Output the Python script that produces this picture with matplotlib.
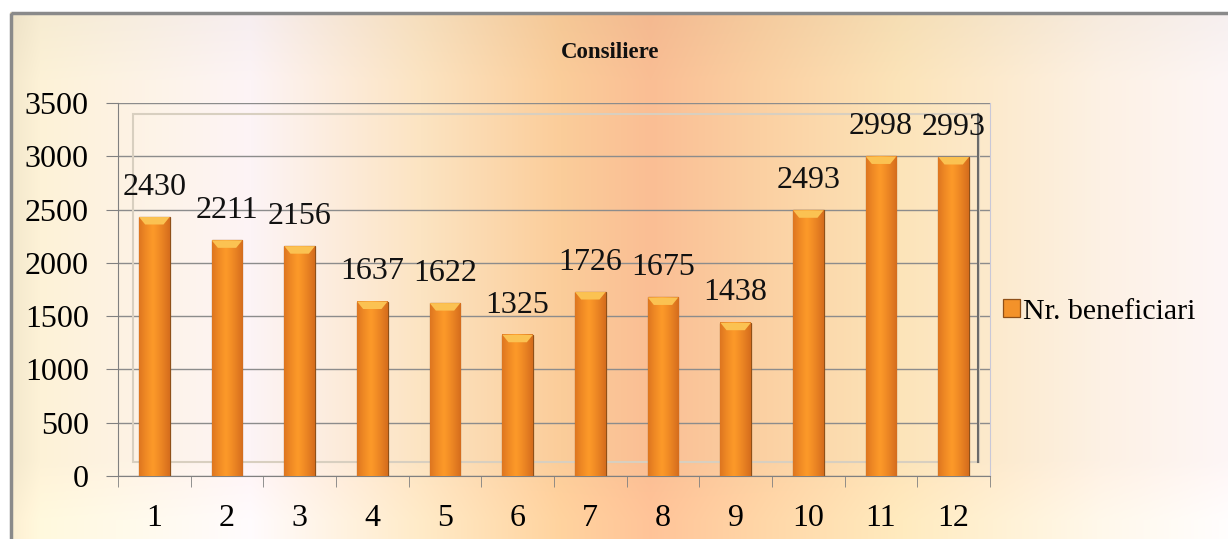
import numpy as np
import matplotlib
matplotlib.use("Agg")
import matplotlib.pyplot as plt
from matplotlib.patches import Rectangle

# date
luni = [str(i) for i in range(1, 13)]
beneficiari = [2430, 2211, 2156, 1637, 1622, 1325, 1726, 1675, 1438, 2493, 2998, 2993]
titlu = "Consiliere"
serie = "Nr. beneficiari"

plt.rcParams['font.family'] = ['Liberation Serif', 'DejaVu Serif']

W, H = 1228, 539
fig = plt.figure(figsize=(W / 100, H / 100), dpi=100)

# fundal cu gradient
bg = fig.add_axes([0, 0, 1, 1], zorder=-10)
bg.set_axis_off()
xs = np.arange(W)
stops_x = [0, 40, 250, 420, 560, 650, 760, 900, 1100, 1228]
stops_c = np.array([
    [240, 228, 200], [253, 242, 215], [253, 244, 246], [252, 228, 194],
    [251, 205, 154], [250, 190, 148], [251, 208, 162], [252, 228, 185],
    [253, 241, 228], [253, 246, 246]]) / 255.0
row = np.stack([np.interp(xs, stops_x, stops_c[:, k]) for k in range(3)], axis=1)
ys = np.arange(H)
vert = np.interp(ys, [0, 30, 80, 460, 520, 539], [0.97, 0.98, 1.0, 1.0, 1.03, 1.03])
img = np.clip(row[None, :, :] * vert[:, None, None], 0, 1)
img[:12, :, :] = 1.0
img[:, :10, :] = 1.0
bg.imshow(img, extent=[0, W, H, 0], aspect='auto')
bg.set_xlim(0, W)
bg.set_ylim(H, 0)
bg.add_patch(Rectangle((11, 13), W, H, fill=False, edgecolor='#8a8a8a', linewidth=2.5))

ax = fig.add_axes([118 / W, 1 - 476 / H, (990 - 118) / W, (476 - 103) / H])
ax.patch.set_alpha(0)

x = np.arange(1, len(beneficiari) + 1)
bars = ax.bar(x, beneficiari, width=0.42, color='#f3922a', edgecolor='#8f5018',
              linewidth=0.9, zorder=3)

# gradient pe bare
grad = np.linspace(0, 1, 64)
prof = 1 - 0.6 * np.abs(grad - 0.45) ** 1.2
cmap_bar = np.stack([0.99 * prof ** 0.5, 0.60 * prof, 0.16 * prof], axis=1)
cmap_bar = np.clip(cmap_bar, 0, 1)
for b in bars:
    x0, w, h = b.get_x(), b.get_width(), b.get_height()
    ax.imshow(cmap_bar[None, :, :], extent=[x0, x0 + w, 0, h], aspect='auto',
              zorder=3.5, clip_path=b, clip_on=True)
    ax.fill([x0, x0 + w, x0 + w * 0.8, x0 + w * 0.2], [h, h, h - 70, h - 70],
            color='#fbc252', edgecolor='none', zorder=3.6)

for xi, v in zip(x, beneficiari):
    ax.annotate(str(v), (xi, v), xytext=(0, 11), textcoords='offset points',
                ha='center', va='bottom', fontsize=23, color='#111111', zorder=5)

ax.set_xlim(0.5, 12.5)
ax.set_ylim(0, 3500)
ax.set_yticks(range(0, 3501, 500))
ax.set_xticks(x)
ax.set_xticklabels(luni)
ax.set_xticks(np.arange(0.5, 12.6, 1), minor=True)
ax.tick_params(axis='x', which='major', length=0, pad=20, labelsize=23)
ax.tick_params(axis='x', which='minor', length=8, color='#808080', direction='out')
ax.tick_params(axis='y', length=9, color='#808080', pad=12, labelsize=23)
ax.grid(axis='y', color='#8c8c8c', linewidth=1, zorder=1)
for s in ['left', 'bottom']:
    ax.spines[s].set_color('#808080')
ax.spines['top'].set_visible(False)
ax.spines['right'].set_color('#c8c8d8')

# cadru 3D discret
ax.add_patch(Rectangle((0.7, 130), 11.65, 3270, fill=False, edgecolor='#d8cfc0',
                       linewidth=1.5, zorder=2))
ax.plot([12.33, 12.33], [130, 3400], color='#6a6a6a', linewidth=1.5, zorder=4)

fig.text(610 / W, 1 - 53 / H, titlu, ha='center', va='center', fontsize=16.5,
         fontweight='bold', color='#111111')

ax.legend([bars], [serie], loc='center left', bbox_to_anchor=(1.015, 0.44), frameon=False,
          fontsize=21.5, handlelength=0.55, handleheight=0.55, handletextpad=0.12,
          borderpad=0, borderaxespad=0)

fig.savefig("out.png", dpi=100)
